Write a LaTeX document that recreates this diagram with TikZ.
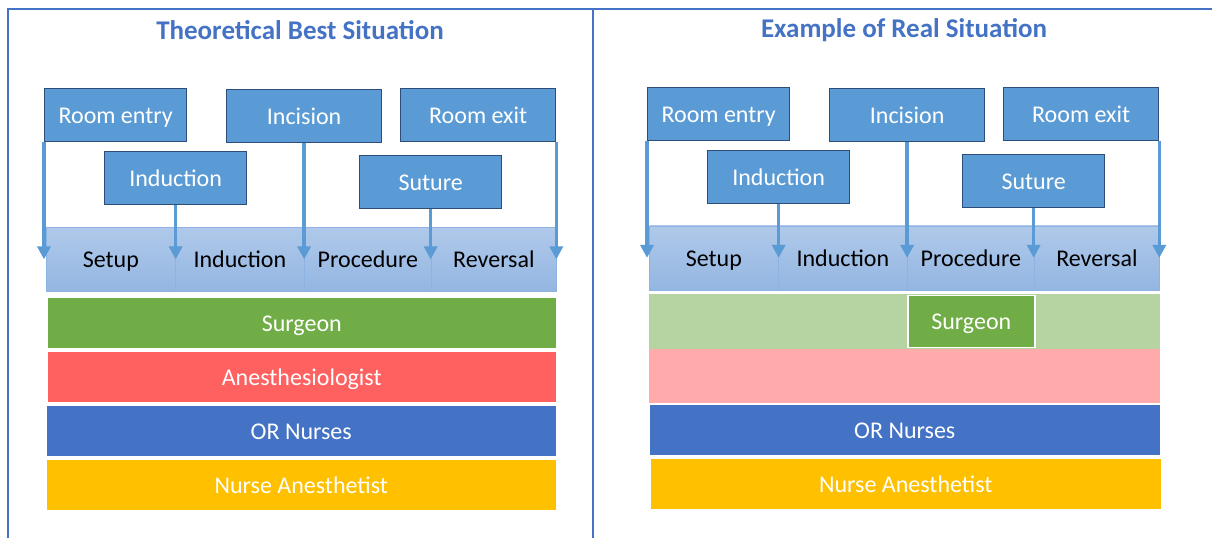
\documentclass[tikz,border=0pt]{standalone}
\usepackage{fontspec}
\setmainfont{Carlito}
\usetikzlibrary{arrows.meta,positioning}
\definecolor{frameblue}{HTML}{4472C4}
\definecolor{eventblue}{HTML}{5B9BD5}
\definecolor{eventedge}{HTML}{2E4D78}
\definecolor{phasetop}{HTML}{B0C9EA}
\definecolor{phasebot}{HTML}{93B6E2}
\definecolor{phaseedge}{HTML}{8DB3E2}
\definecolor{surgreen}{HTML}{70AD47}
\definecolor{surlight}{HTML}{B6D4A2}
\definecolor{anered}{HTML}{FF6161}
\definecolor{anelight}{HTML}{FFABAB}
\definecolor{nurblue}{HTML}{4472C4}
\definecolor{naorange}{HTML}{FFC000}
\tikzset{
  event/.style={draw=eventedge, line width=1.3pt, fill=eventblue, text=white,
    inner sep=0pt, minimum height=53pt, anchor=north west,
    text height=17pt, text depth=0pt,
    font=\fontsize{24}{28}\selectfont},
  phase/.style={draw=phaseedge, line width=0.8pt, top color=phasetop,
    bottom color=phasebot, inner sep=0pt, minimum height=64pt,
    text height=17pt, text depth=0pt,
    anchor=north west, font=\fontsize{24}{28}\selectfont},
  role/.style={draw=white, line width=1.5pt, text=white, inner sep=0pt,
    text height=17pt, text depth=0pt,
    minimum height=52pt, anchor=north west, font=\fontsize{24}{28}\selectfont},
  marker/.style={draw=eventblue, line width=3.5pt,
    -{Triangle[width=13pt,length=13pt]}},
  paneltitle/.style={text=frameblue, font=\bfseries\fontsize{27}{31}\selectfont}
}
% one row of events, the phases and the arrows between them
\newcommand{\timeline}[1]{%
  \node[phase, minimum width=129pt] (#1setup) at (46,227) {Setup};
  \node[phase, minimum width=129pt] (#1induc) at (175,227) {Induction};
  \node[phase, minimum width=127pt] (#1proc) at (304,227) {Procedure};
  \node[phase, minimum width=125pt] (#1rev) at (431,227) {Reversal};
  \node[event, minimum width=142pt] (#1entry) at (44,88) {Room entry};
  \node[event, minimum width=155pt] (#1incis) at (226,89) {Incision};
  \node[event, minimum width=155pt] (#1exit) at (400,88) {Room exit};
  \node[event, minimum width=142pt] (#1indev) at (104,151) {Induction};
  \node[event, minimum width=142pt] (#1sut) at (359,155) {Suture};
  \draw[marker] (#1entry.south west) -- (#1entry.south west |- #1setup.center);
  \draw[marker] (#1indev.south) -- (#1indev.south |- #1setup.center);
  \draw[marker] (#1incis.south) -- (#1incis.south |- #1setup.center);
  \draw[marker] (#1sut.south) -- (#1sut.south |- #1setup.center);
  \draw[marker] (#1exit.south east) -- (#1exit.south east |- #1setup.center);
}

\begin{document}
\begin{tikzpicture}[x=1pt, y=-1pt]
  \useasboundingbox (0,0) rectangle (1212,538);
  \draw[frameblue, line width=2.8pt] (8,538) -- (8,9) -- (1212,9);
  \draw[frameblue, line width=2.8pt] (593,9) -- (593,538);

  \node[paneltitle] (besttitle) at (300,30) {Theoretical Best Situation};
  \node[paneltitle] (realtitle) at (904,30) {Example of Real Situation};

  % theoretical best
  \timeline{b}
  \node[role, fill=surgreen, minimum width=510pt] (bsurg) at (46,296) {Surgeon};
  \node[role, fill=anered, minimum width=510pt] (banes) at (46,350) {Anesthesiologist};
  \node[role, fill=nurblue, minimum width=511pt] (bnurse) at (45,404) {OR Nurses};
  \node[role, fill=naorange, minimum width=511pt] (bna) at (45,458) {Nurse Anesthetist};

  % real situation
  \begin{scope}[xshift=603pt, yshift=1.5pt]
    \timeline{r}
  \end{scope}
  \node[role, fill=surlight, draw=none, minimum width=511pt, minimum height=55pt] (rsurgbar) at (648,293) {};
  \node[role, fill=anelight, draw=none, minimum width=511pt, minimum height=54pt] (ranes) at (648,348) {};
  \node[role, fill=surgreen, minimum width=127pt, minimum height=52pt] (rsurg) at (907,294.5) {Surgeon};
  \node[role, fill=nurblue, minimum width=512pt] (rnurse) at (648,403) {OR Nurses};
  \node[role, fill=naorange, minimum width=512pt] (rna) at (649,457) {Nurse Anesthetist};
\end{tikzpicture}
\end{document}
